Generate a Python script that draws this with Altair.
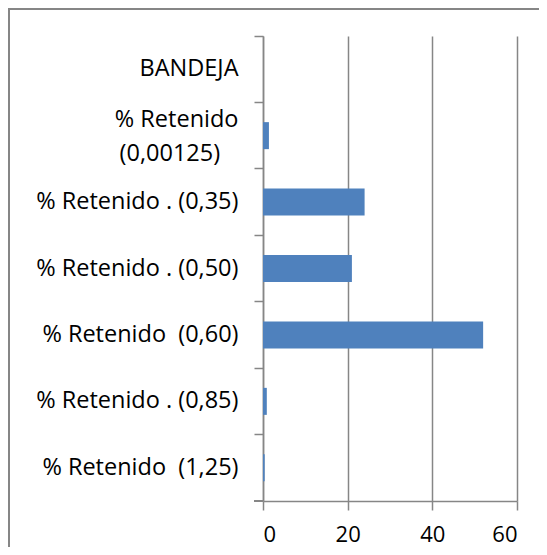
import altair as alt
import pandas as pd

categories = [
    "BANDEJA",
    "% Retenido (0,00125)",
    "% Retenido . (0,35)",
    "% Retenido . (0,50)",
    "% Retenido  (0,60)",
    "% Retenido . (0,85)",
    "% Retenido  (1,25)",
]
values = [0, 1.4, 24, 21, 52, 0.9, 0.4]
x_ticks = [0, 20, 40, 60]

df = pd.DataFrame({"cat": categories, "val": values})

GRAY = "#868686"
BLUE = "#4F81BD"
FONT = "Open Sans"
NB = "\u00a0"
ZW = "\u200b"

WRAP = "% Retenido (0,00125)"
label_expr = (
    "datum.value == '" + WRAP + "' ? ['% Retenido', '(0,00125)" + NB + NB + NB + ZW + "'] : "
    "replace(datum.value, '  ', ' " + NB + "')"
)

base = alt.Chart(df)

border = base.mark_rect(fillOpacity=0, stroke=GRAY, strokeWidth=2).encode(
    x=alt.value(-254), x2=alt.value(320), y=alt.value(-27), y2=alt.value(560)
)

bars = base.mark_bar(color=BLUE, size=27).encode(
    y=alt.Y(
        "cat:N",
        sort=categories,
        title=None,
        scale=alt.Scale(paddingInner=0, paddingOuter=0),
        axis=alt.Axis(
            bandPosition=0,
            grid=False,
            domainColor=GRAY,
            domainWidth=1.5,
            tickColor=GRAY,
            tickWidth=1.5,
            tickSize=9,
            labelPadding=16,
            labelFont=FONT,
            labelFontSize=23.5,
            labelColor="black",
            labelLimit=300,
            labelLineHeight=34,
            labelOffset={"condition": {"test": "datum.value == '" + WRAP + "'", "value": -16}, "value": 0},
            labelExpr=label_expr,
        ),
    ),
    x=alt.X(
        "val:Q",
        title=None,
        scale=alt.Scale(domain=[0, 60], nice=False),
        axis=alt.Axis(
            values=x_ticks,
            grid=True,
            gridColor=GRAY,
            gridWidth=1.5,
            domainColor=GRAY,
            domainWidth=1.5,
            tickColor=GRAY,
            tickWidth=1.5,
            tickSize=9,
            labelPadding=31,
            labelBaseline="alphabetic",
            labelFont=FONT,
            labelFontSize=22,
            labelColor="black",
        ),
    ),
)

bottom_tick = base.mark_rule(color=GRAY, strokeWidth=1.5).encode(
    x=alt.value(-9), x2=alt.value(0), y=alt.value(465)
)

chart = (
    alt.layer(border, bars, bottom_tick)
    .properties(
        width=254,
        height=465,
        autosize=alt.AutoSizeParams(type="none"),
        padding={"left": 255, "top": 28, "right": 22, "bottom": 46},
        background="white",
    )
    .configure_view(stroke=None)
)

chart.save("out.html", embed_options={"renderer": "svg", "actions": False})
